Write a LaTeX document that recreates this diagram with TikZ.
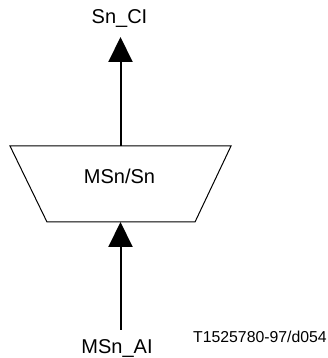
\documentclass[tikz,border=0pt]{standalone}
\usepackage{fontspec}
\setmainfont{Liberation Sans}
\usepackage{tikz}
\usepackage{xcolor}
\usetikzlibrary{positioning,arrows.meta}
\definecolor{fnline}{HTML}{000000}
\tikzset{
  fnbox/.style  ={draw=fnline, line width=1pt, line join=miter},
  sig/.style    ={-{Triangle[length=25pt, width=24pt]}, draw=fnline,
                  line width=2pt},
  ptlabel/.style={anchor=base, inner sep=0pt, font=\fontsize{20}{24}\selectfont},
  tag/.style    ={anchor=base west, inner sep=0pt,
                  font=\fontsize{15.8}{19}\selectfont},
}

\begin{document}
\begin{tikzpicture}[x=1pt, y=1pt]
  \useasboundingbox (0,0) rectangle (328,358);

  % ---- the adaptation function -------------------------------------------
  \coordinate (adapttop) at (120.5,212);
  \coordinate (adaptbot) at (120.5,136);
  \draw[fnbox] (10,212) -- (231,212) -- (195,136) -- (47,136) -- cycle;
  \node[ptlabel] (adaptname) at (119.5,174) {MSn/Sn};

  % ---- characteristic information out ------------------------------------
  \node[ptlabel] (cilabel) at (119.5,334) {Sn\_CI};
  \coordinate (citip) at (120.5,321);
  \draw[sig] (adapttop) -- (citip);

  % ---- adapted information in --------------------------------------------
  \node[ptlabel] (ailabel) at (117,4.5) {MSn\_AI};
  \coordinate (aifoot) at (120.5,28);
  \draw[sig] (aifoot) -- (adaptbot);

  % figure tag
  \node[tag] (figtag) at (193,15) {T1525780-97/d054};
\end{tikzpicture}
\end{document}
